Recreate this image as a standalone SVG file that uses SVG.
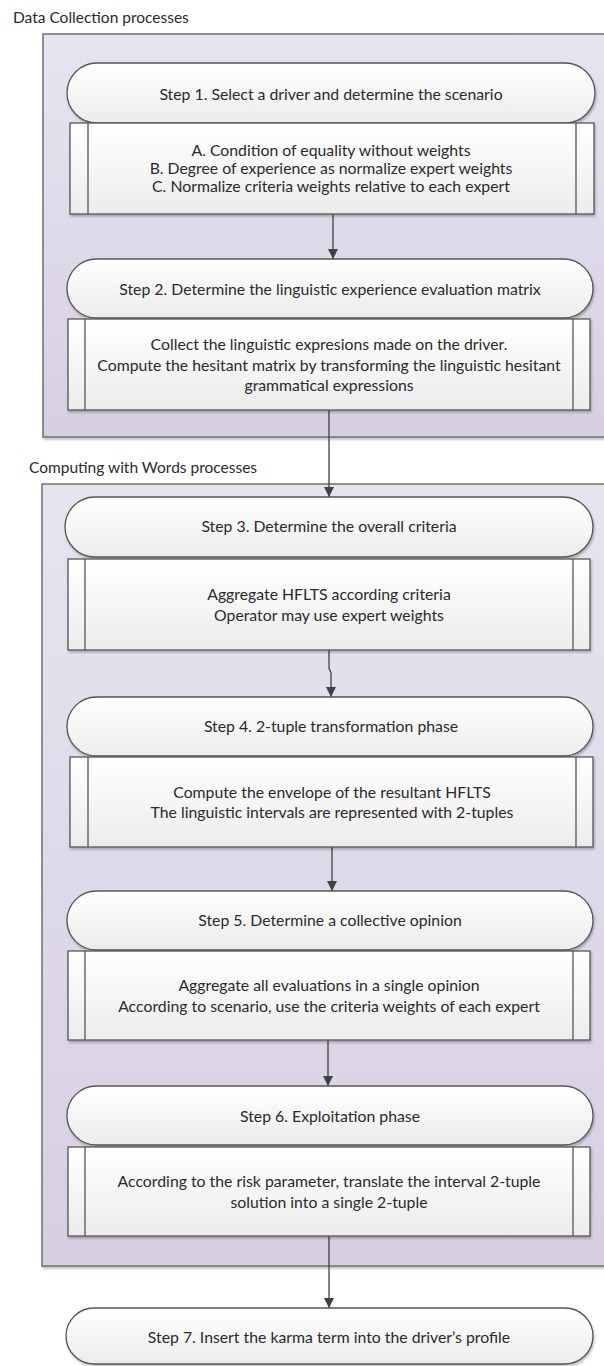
<svg xmlns="http://www.w3.org/2000/svg" width="604" height="1366" viewBox="0 0 604 1366">
<defs>
<linearGradient id="gPanel" x1="0" y1="0" x2="0" y2="1">
<stop offset="0" stop-color="#e7e4f0"/>
<stop offset="1" stop-color="#d6cfe2"/>
</linearGradient>
<linearGradient id="gNode" x1="0" y1="0" x2="0" y2="1">
<stop offset="0" stop-color="#ffffff"/>
<stop offset="1" stop-color="#ececec"/>
</linearGradient>
<marker id="arr" viewBox="0 0 10 10" refX="10" refY="5" markerWidth="10" markerHeight="10" markerUnits="userSpaceOnUse" orient="auto">
<path d="M0,0 L10,5 L0,10 z" fill="#404040"/>
</marker>
<filter id="sh" x="-5%" y="-5%" width="110%" height="115%">
<feDropShadow dx="1" dy="2" stdDeviation="1.2" flood-color="#000" flood-opacity="0.25"/>
</filter>
</defs>
<style>
.panel{fill:url(#gPanel);stroke:#707070;stroke-width:1.5}
.term{fill:url(#gNode);stroke:#555;stroke-width:1.3}
.box{fill:url(#gNode);stroke:#555;stroke-width:1.3}
.bar{stroke:#555;stroke-width:1.3}
.conn{fill:none;stroke:#404040;stroke-width:1.3}
text{font-family:Lato,"Liberation Sans",sans-serif;font-size:15.8px;fill:#2a2a2a;text-anchor:middle}
.lbl{text-anchor:start;font-size:15.5px}
</style>

<g id="panel1">
<rect class="panel" x="43" y="34" width="575" height="403" filter="url(#sh)"/>
<text class="lbl" x="13" y="22.5">Data Collection processes</text>
</g>
<g id="panel2">
<rect class="panel" x="42" y="484" width="576" height="782" filter="url(#sh)"/>
<text class="lbl" x="29" y="472.5">Computing with Words processes</text>
</g>

<g id="connectors">
<path class="conn" d="M333 214 V259" marker-end="url(#arr)"/>
<path class="conn" d="M329 410 V497" marker-end="url(#arr)"/>
<path class="conn" d="M329 650 V668 L331 673 V697" marker-end="url(#arr)"/>
<path class="conn" d="M332 847 V891" marker-end="url(#arr)"/>
<path class="conn" d="M328 1040 V1086" marker-end="url(#arr)"/>
<path class="conn" d="M329 1236 V1308" marker-end="url(#arr)"/>
</g>

<g id="step1">
<rect class="term" x="67" y="63" width="528" height="60" rx="30" filter="url(#sh)"/>
<text x="331" y="99.5">Step 1. Select a driver and determine the scenario</text>
</g>
<g id="box1">
<rect class="box" x="70" y="123" width="524" height="91" filter="url(#sh)"/>
<line class="bar" x1="88" y1="123" x2="88" y2="214"/>
<line class="bar" x1="576" y1="123" x2="576" y2="214"/>
<text x="331" y="155.5">A. Condition of equality without weights</text>
<text x="331" y="173.5">B. Degree of experience as normalize expert weights</text>
<text x="331" y="191.5">C. Normalize criteria weights relative to each expert</text>
</g>

<g id="step2">
<rect class="term" x="67" y="259" width="526" height="59" rx="29.5" filter="url(#sh)"/>
<text x="330" y="294.5">Step 2. Determine the linguistic experience evaluation matrix</text>
</g>
<g id="box2">
<rect class="box" x="68" y="319" width="522" height="91" filter="url(#sh)"/>
<line class="bar" x1="85" y1="319" x2="85" y2="410"/>
<line class="bar" x1="573" y1="319" x2="573" y2="410"/>
<text x="329" y="349.5">Collect the linguistic expresions made on the driver.</text>
<text x="329" y="370.5">Compute the hesitant matrix by transforming the linguistic hesitant</text>
<text x="329" y="390.5">grammatical expressions</text>
</g>

<g id="step3">
<rect class="term" x="65" y="497" width="528" height="60" rx="30" filter="url(#sh)"/>
<text x="329" y="531.5">Step 3. Determine the overall criteria</text>
</g>
<g id="box3">
<rect class="box" x="68" y="559" width="522" height="91" filter="url(#sh)"/>
<line class="bar" x1="85" y1="559" x2="85" y2="650"/>
<line class="bar" x1="573" y1="559" x2="573" y2="650"/>
<text x="329" y="599.5">Aggregate HFLTS according criteria</text>
<text x="329" y="620.5">Operator may use expert weights</text>
</g>

<g id="step4">
<rect class="term" x="67" y="697" width="526" height="59" rx="29.5" filter="url(#sh)"/>
<text x="331" y="731.5">Step 4. 2-tuple transformation phase</text>
</g>
<g id="box4">
<rect class="box" x="70" y="757" width="523" height="90" filter="url(#sh)"/>
<line class="bar" x1="88" y1="757" x2="88" y2="847"/>
<line class="bar" x1="576" y1="757" x2="576" y2="847"/>
<text x="332" y="797.5">Compute the envelope of the resultant HFLTS</text>
<text x="332" y="817.5">The linguistic intervals are represented with 2-tuples</text>
</g>

<g id="step5">
<rect class="term" x="67" y="891" width="526" height="59" rx="29.5" filter="url(#sh)"/>
<text x="330" y="925.5">Step 5. Determine a collective opinion</text>
</g>
<g id="box5">
<rect class="box" x="68" y="951" width="522" height="89" filter="url(#sh)"/>
<line class="bar" x1="85" y1="951" x2="85" y2="1040"/>
<line class="bar" x1="573" y1="951" x2="573" y2="1040"/>
<text x="329" y="990.5">Aggregate all evaluations in a single opinion</text>
<text x="329" y="1011.5">According to scenario, use the criteria weights of each expert</text>
</g>

<g id="step6">
<rect class="term" x="67" y="1086" width="526" height="59" rx="29.5" filter="url(#sh)"/>
<text x="330" y="1121.5">Step 6. Exploitation phase</text>
</g>
<g id="box6">
<rect class="box" x="68" y="1147" width="522" height="89" filter="url(#sh)"/>
<line class="bar" x1="85" y1="1147" x2="85" y2="1236"/>
<line class="bar" x1="573" y1="1147" x2="573" y2="1236"/>
<text x="329" y="1186.5">According to the risk parameter, translate the interval 2-tuple</text>
<text x="329" y="1207.5">solution into a single 2-tuple</text>
</g>

<g id="step7">
<rect class="term" x="66" y="1308" width="527" height="56" rx="28" filter="url(#sh)"/>
<text x="329" y="1342.5">Step 7. Insert the karma term into the driver’s profile</text>
</g>
</svg>
